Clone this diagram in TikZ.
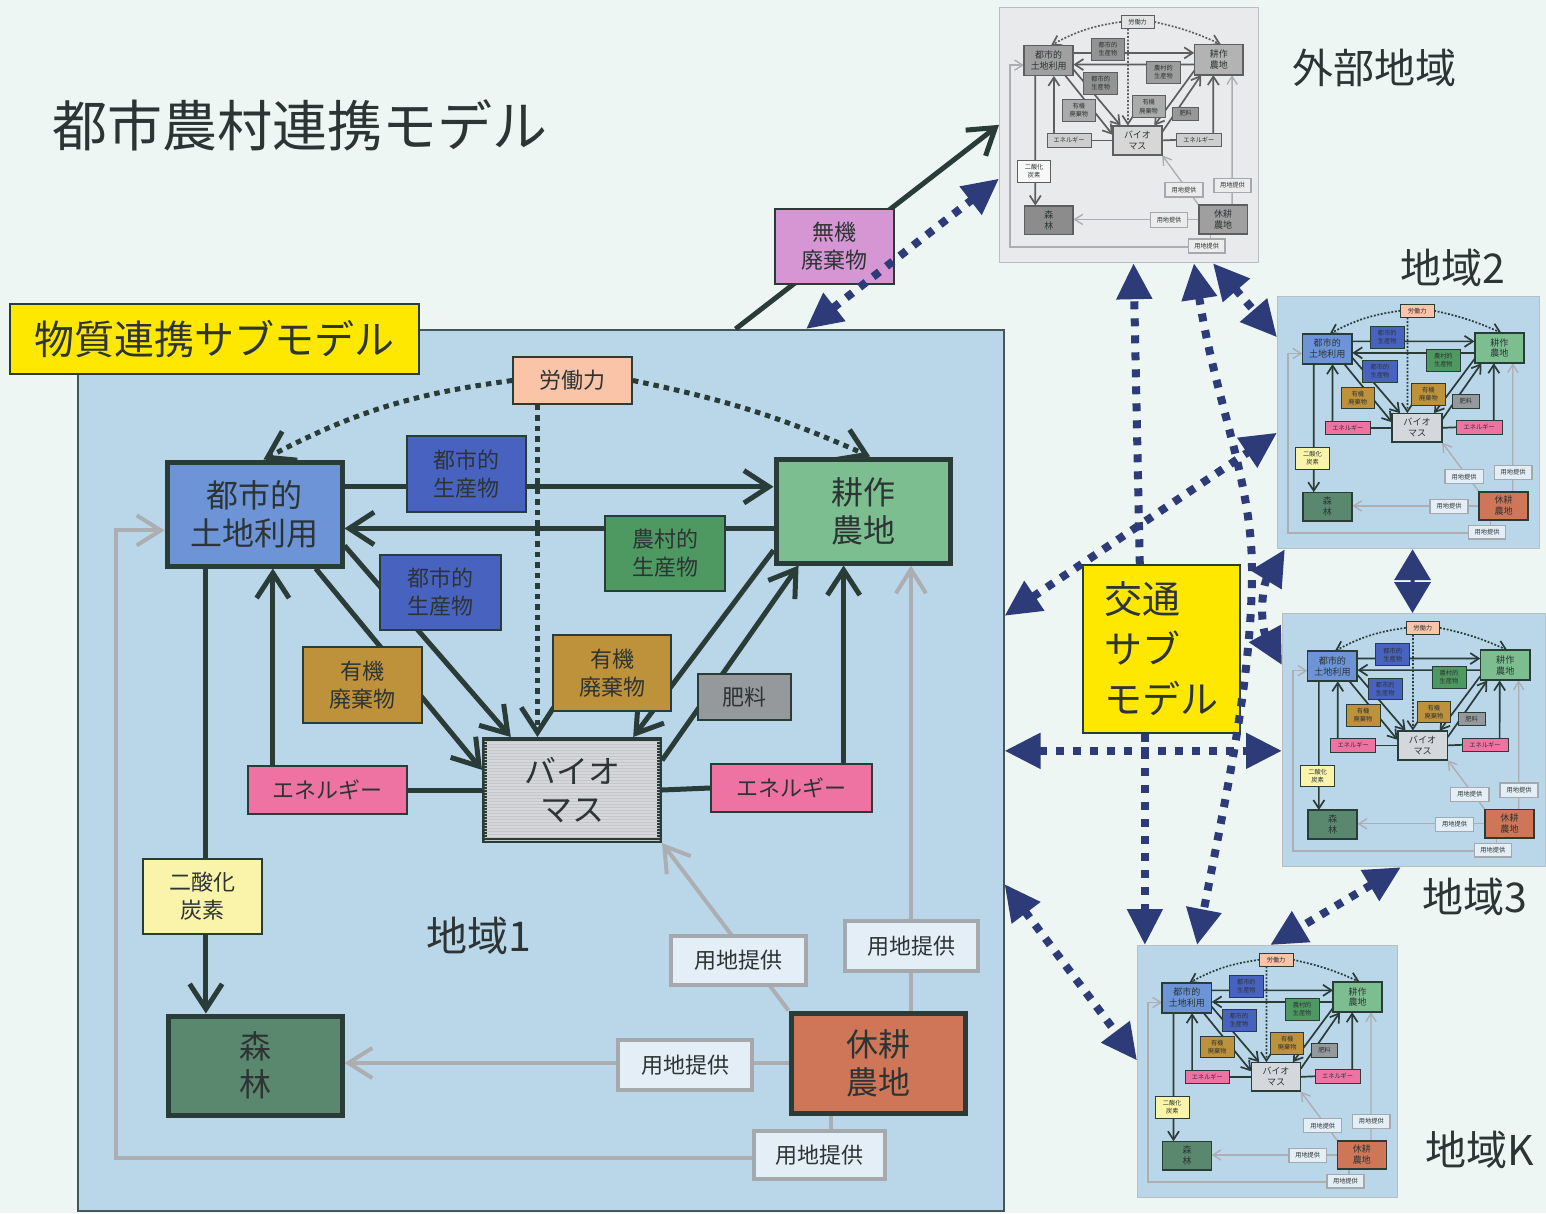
\documentclass[tikz,border=0pt]{standalone}
\usepackage{fontspec}
\setmainfont{Noto Sans CJK JP}
\usetikzlibrary{arrows.meta,calc,patterns}

\definecolor{pageBg}{RGB}{237,246,243}
\definecolor{cPanel}{RGB}{186,214,233}
\definecolor{cPanelBorder}{RGB}{70,85,85}
\definecolor{cUrban}{RGB}{108,148,214}
\definecolor{cFarm}{RGB}{125,190,145}
\definecolor{cBio}{RGB}{212,216,220}
\definecolor{cForest}{RGB}{90,136,110}
\definecolor{cFallow}{RGB}{208,118,88}
\definecolor{cLabor}{RGB}{250,196,168}
\definecolor{cUprod}{RGB}{72,98,192}
\definecolor{cRprod}{RGB}{78,152,98}
\definecolor{cOrg}{RGB}{190,146,58}
\definecolor{cFert}{RGB}{150,153,155}
\definecolor{cEnergy}{RGB}{238,114,162}
\definecolor{cCO2}{RGB}{250,243,170}
\definecolor{cLand}{RGB}{228,238,246}
\definecolor{cLandBorder}{RGB}{165,168,172}
\definecolor{cLine}{RGB}{42,60,55}
\definecolor{cGrayLine}{RGB}{172,174,178}
\definecolor{cText}{RGB}{45,52,52}
\definecolor{cNavy}{RGB}{45,60,120}
\definecolor{cYellow}{RGB}{255,232,0}
\definecolor{cMuki}{RGB}{214,150,212}
\definecolor{cExtBg}{RGB}{232,234,235}
\definecolor{cThumbBorder}{RGB}{185,190,194}

\pgfdeclarelayer{panelbg}
\pgfdeclarelayer{lines}
\pgfsetlayers{panelbg,lines,main}

\newcommand\lwf{1}
\newcommand\dOn{5.5pt}
\newcommand\dOff{5pt}

\tikzset{
  every node/.style={text=cText},
  bigbox/.style={draw=cLine, line width=5pt*\lwf, inner sep=0pt, align=center,
    font=\fontsize{32}{38}\selectfont},
  smallbox/.style={draw=cLine, line width=1.8pt*\lwf, inner sep=0pt, align=center,
    font=\fontsize{22}{28}\selectfont},
  landbox/.style={draw=cLandBorder, fill=cLand, line width=4pt*\lwf, inner sep=0pt,
    align=center, font=\fontsize{22}{28}\selectfont},
  darkline/.style={draw=cLine, line width=5pt*\lwf},
  darkarr/.style={darkline, -{Straight Barb[length=0pt 5,width=0pt 6.5]}},
  grayarr/.style={draw=cGrayLine, line width=4pt*\lwf, -{Straight Barb[length=0pt 6,width=0pt 7.5]}},
  dotarr/.style={draw=cLine, line width=5pt*\lwf, dash pattern=on \dOn off \dOff,
    -{Straight Barb[length=0pt 5,width=0pt 6.5]}},
  navydot/.style={draw=cNavy, line width=8pt, dash pattern=on 8pt off 9pt},
  navyone/.style={navydot, -{Triangle[length=36pt,width=34pt]}},
  navyboth/.style={navydot, {Triangle[length=36pt,width=34pt]}-{Triangle[length=36pt,width=34pt]}},
  biofill/.style={},
  regionlabel/.style={font=\fontsize{41}{46}\selectfont},
}

\newcommand\makegray{%
  \colorlet{cUrban}[gray]{cUrban!85!white}%
  \colorlet{cFarm}[gray]{cFarm!85!white}%
  \colorlet{cBio}[gray]{cBio}%
  \colorlet{cForest}[gray]{cForest!85!white}%
  \colorlet{cFallow}[gray]{cFallow!85!white}%
  \colorlet{cLabor}[gray]{cLabor!60!white}%
  \colorlet{cUprod}[gray]{cUprod!70!white}%
  \colorlet{cRprod}[gray]{cRprod!75!white}%
  \colorlet{cOrg}[gray]{cOrg!80!white}%
  \colorlet{cFert}[gray]{cFert}%
  \colorlet{cEnergy}[gray]{cEnergy!50!white}%
  \colorlet{cCO2}[gray]{cCO2!40!white}%
  \colorlet{cLand}[gray]{cLand}%
  \colorlet{cLine}[gray]{cLine!80!white}%
}

% the contents of one region (drawn in the coordinates of region 1)
\newcommand\regionbody{%
  \pgfmathsetlengthmacro\dOn{5.5pt*\lwf}%
  \pgfmathsetlengthmacro\dOff{5pt*\lwf}%
  \node[bigbox, fill=cUrban,  minimum width=175pt, minimum height=104pt] (urban)  at (254.5,514) {都市的\\土地利用};
  \node[bigbox, fill=cFarm,   minimum width=174pt, minimum height=104pt] (farm)   at (863,511) {耕作\\農地};
  \node[bigbox, fill=cBio, biofill, minimum width=175pt, minimum height=101pt] (bio) at (572,790) {バイオ\\マス};
  \node[bigbox, fill=cForest, minimum width=174pt, minimum height=99pt]  (forest) at (255,1065.5) {森\\林};
  \node[bigbox, fill=cFallow, minimum width=174pt, minimum height=100pt] (fallow) at (878,1063) {休耕\\農地};
  \node[smallbox, fill=cLabor,  minimum width=119pt, minimum height=47pt] (labor) at (572.5,380.5) {労働力};
  \node[smallbox, fill=cUprod,  minimum width=119pt, minimum height=76pt] (up1)   at (466.5,474) {都市的\\生産物};
  \node[smallbox, fill=cRprod,  minimum width=120pt, minimum height=75pt] (rp)    at (665,553.5) {農村的\\生産物};
  \node[smallbox, fill=cUprod,  minimum width=121pt, minimum height=75pt] (up2)   at (440.5,592.5) {都市的\\生産物};
  \node[smallbox, fill=cOrg,    minimum width=119pt, minimum height=76pt] (org1)  at (362.5,685) {有機\\廃棄物};
  \node[smallbox, fill=cOrg,    minimum width=118pt, minimum height=76pt] (org2)  at (612,673) {有機\\廃棄物};
  \node[smallbox, fill=cFert,   minimum width=93pt,  minimum height=46pt] (fert)  at (744.5,697) {肥料};
  \node[smallbox, fill=cEnergy, minimum width=159pt, minimum height=48pt] (en1)   at (327.5,790) {エネルギー};
  \node[smallbox, fill=cEnergy, minimum width=161pt, minimum height=48pt] (en2)   at (791.5,788) {エネルギー};
  \node[smallbox, fill=cCO2,    minimum width=119pt, minimum height=75pt] (co2)   at (202.5,896.5) {二酸化\\炭素};
  \node[landbox, minimum width=135pt, minimum height=49pt] (landa) at (738.5,960.5) {用地提供};
  \node[landbox, minimum width=133pt, minimum height=50pt] (landb) at (911.5,946) {用地提供};
  \node[landbox, minimum width=134pt, minimum height=50pt] (landc) at (685,1065) {用地提供};
  \node[landbox, minimum width=131pt, minimum height=48pt] (landd) at (819.5,1155) {用地提供};
  \begin{pgfonlayer}{lines}
    \draw[darkarr] ($(urban.north east)!0.25!(urban.south east)$) coordinate (c1) -- (c1 -| farm.west);
    \draw[darkarr] ($(farm.north west)!0.66!(farm.south west)$) coordinate (c2) -- (c2 -| urban.east);
    \draw[darkarr] ($(urban.north east)!0.79!(urban.south east)$) -- ($(bio.north west)!0.16!(bio.north east)$);
    \draw[darkarr] ($(urban.south west)!0.84!(urban.south east)$) -- ($(bio.north west)!0.31!(bio.south west)$);
    \draw[darkarr] ($(farm.north west)!0.86!(farm.south west)$) -- ($(bio.north west)!0.84!(bio.north east)$);
    \draw[darkarr] ($(bio.north east)!0.22!(bio.south east)$) -- ($(farm.south west)!0.14!(farm.south east)$);
    \draw[darkarr] ($(en1.north west)!0.16!(en1.north east)$) coordinate (c3) -- (c3 |- urban.south);
    \draw[darkline] (en1.east) -- (bio.west);
    \draw[darkline] (bio.east) -- (en2.west);
    \draw[darkarr] ($(en2.north west)!0.82!(en2.north east)$) coordinate (c4) -- (c4 |- farm.south);
    \draw[darkarr] ($(urban.south west)!0.23!(urban.south east)$) coordinate (c5) -- (c5 |- forest.north);
    \draw[dotarr] (labor.west) to[bend right=10] ($(urban.north west)!0.55!(urban.north east)$);
    \draw[dotarr] (labor.east) to[bend left=6] ($(farm.north west)!0.54!(farm.north east)$);
    \draw[dotarr] ($(labor.south west)!0.21!(labor.south east)$) coordinate (c6) -- (c6 |- bio.north);
    \draw[grayarr] (fallow.west) -- (fallow.west -| forest.east);
    \draw[grayarr] (fallow.north west) -- (bio.south east);
    \draw[grayarr] ($(fallow.north west)!0.684!(fallow.north east)$) coordinate (c7) -- (c7 |- farm.south);
    \coordinate (gl) at (116,1158);
    \draw[grayarr] ($(fallow.south west)!0.24!(fallow.south east)$) |- (gl) |- ($(urban.north west)!0.65!(urban.south west)$);
  \end{pgfonlayer}
}

% a small copy of a region: x0, y0, width, height, name, background, extra code
\newcommand\thumbregion[7]{%
  \begin{pgfonlayer}{panelbg}
    \node[draw=cThumbBorder, line width=1.2pt, fill=#6, minimum width=#3pt, minimum height=#4pt,
      inner sep=0pt, anchor=north west] (#5) at (#1,#2) {};
  \end{pgfonlayer}
  \pgfmathsetmacro\txs{#3/926}%
  \pgfmathsetmacro\tys{#4/881}%
  \pgfmathsetmacro\tsx{#1-\txs*77}%
  \pgfmathsetmacro\tsy{#2-\tys*329}%
  \begin{scope}[shift={(\tsx,\tsy)}, xscale=\txs, yscale=\tys, transform shape]
    \def\lwf{0.34}#7%
    \regionbody
  \end{scope}
}

\begin{document}
\begin{tikzpicture}[x=1pt, y=-1pt]
\useasboundingbox (0,0) rectangle (1546,1213);
\begin{pgfonlayer}{panelbg}
  \fill[pageBg] (0,0) rectangle (1546,1213);
  \node[draw=cPanelBorder, line width=1.5pt, fill=cPanel, minimum width=926pt, minimum height=881pt,
    inner sep=0pt, anchor=north west] (panel) at (77,329) {};
\end{pgfonlayer}

\node[font=\fontsize{55}{62}\selectfont] (title) at (300,125) {都市農村連携モデル};

\begin{scope}
  \tikzset{biofill/.style={postaction={pattern=horizontal lines, pattern color=white!55!gray}}}
  \regionbody
\end{scope}
\node[regionlabel] (r1) at (479,936) {地域1};
\node[fill=cYellow, draw=cLine, line width=1.5pt, minimum width=409pt, minimum height=70pt, inner sep=0pt,
  font=\fontsize{40}{48}\selectfont] (sublabel) at (214.5,339) {物質連携サブモデル};

\thumbregion{999}{7}{259}{255}{ext}{cExtBg}{\makegray}
\thumbregion{1277}{296}{262}{252}{t2}{cPanel}{}
\thumbregion{1282}{613}{263}{253}{t3}{cPanel}{}
\thumbregion{1137}{945}{260}{252}{tk}{cPanel}{}

\node[regionlabel] (lext) at (1374,68) {外部地域};
\node[regionlabel] (l2) at (1453,268) {地域2};
\node[regionlabel] (l3) at (1475,897) {地域3};
\node[regionlabel] (lk) at (1480,1150) {地域K};

% inorganic waste to the outside region
\begin{pgfonlayer}{lines}
  \draw[darkarr] ($(panel.north west)!0.71!(panel.north east)$) -- ($(ext.north west)!0.46!(ext.south west)$);
\end{pgfonlayer}
\node[smallbox, fill=cMuki, minimum width=119pt, minimum height=75pt] (muki) at (834.5,246.5) {無機\\廃棄物};
\draw[navyboth] ($(panel.north west)!0.786!(panel.north east)$) -- ($(ext.north west)!0.67!(ext.south west)$);

% transport sub-model
\node[fill=cYellow, draw=cLine, line width=1.5pt, minimum width=157pt, minimum height=168pt, inner sep=0pt,
  align=left, font=\fontsize{38}{50}\selectfont] (traffic) at (1161.5,649) {交通\\サブ\\モデル};

\draw[navyone] ($(traffic.north west)!0.363!(traffic.north east)$) -- ($(ext.south west)!0.517!(ext.south east)$);
\coordinate (bulge) at (1252,570);
\draw[navyboth] ($(ext.south west)!0.749!(ext.south east)$) .. controls (1215,400) and (1252,480) .. (bulge)
  .. controls (1252,680) and (1225,800) .. ($(tk.north west)!0.23!(tk.north east)$);
\draw[navyboth] ($(ext.south west)!0.822!(ext.south east)$) -- ($(t2.north west)!0.163!(t2.south west)$);
\draw[navyboth] ($(panel.north east)!0.325!(panel.south east)$) -- ($(t2.north west)!0.54!(t2.south west)$);
\draw[navyboth] ($(panel.north east)!0.478!(panel.south east)$) coordinate (h5) -- (h5 -| t3.west);
\draw[navyone] ($(traffic.south west)!0.395!(traffic.south east)$) coordinate (v6) -- (v6 |- tk.north);
\draw[navyboth] ($(panel.north east)!0.629!(panel.south east)$) -- ($(tk.north west)!0.456!(tk.south west)$);
\draw[navyboth] ($(t2.south west)!0.03!(t2.south east)$) to[bend right=30] ($(t3.north west)!0.205!(t3.south west)$);
\draw[draw=cNavy, line width=4pt, {Triangle[length=31pt,width=36pt]}-{Triangle[length=31pt,width=36pt]}]
  ($(t2.south west)!0.515!(t2.south east)$) -- ($(t3.north west)!0.494!(t3.north east)$);
\draw[navyboth] ($(t3.south west)!0.45!(t3.south east)$) -- ($(tk.north west)!0.51!(tk.north east)$);
\end{tikzpicture}
\end{document}
